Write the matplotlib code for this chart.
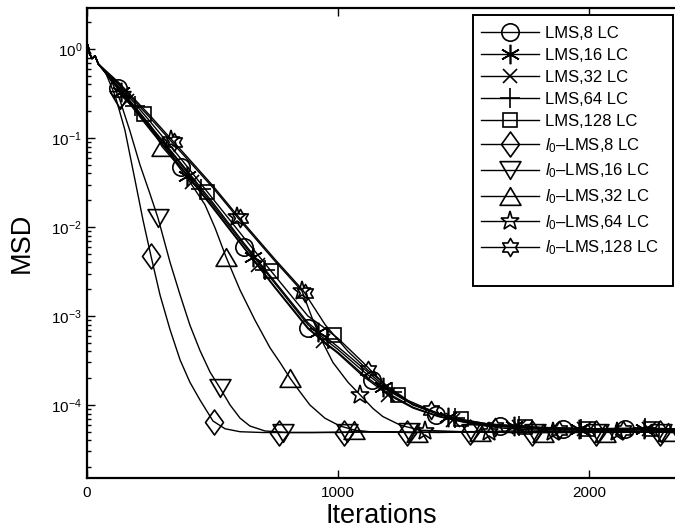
import numpy as np
import matplotlib
matplotlib.use('Agg')
import matplotlib.pyplot as plt
from matplotlib.path import Path
from matplotlib.lines import Line2D
from matplotlib.patches import Rectangle

plt.rcParams['font.family'] = ['Liberation Sans', 'DejaVu Sans']
plt.rcParams['mathtext.fontset'] = 'custom'
plt.rcParams['mathtext.rm'] = 'Liberation Sans'
plt.rcParams['mathtext.it'] = 'Liberation Sans:italic'
plt.rcParams['mathtext.bf'] = 'Liberation Sans:bold'

# noisy start, common to every curve
start_x = [0, 3, 12, 20, 32, 45]
start_y = [0.8, 1.12, 0.87, 0.78, 0.84, 0.68]

# LMS curves (same iteration knots)
lms_x = [125, 250, 375, 500, 625, 750, 880, 950, 1000, 1100, 1200, 1300, 1400, 1500, 1600, 1800, 2000, 2200, 2345]
lms8_y = [0.36, 0.13, 0.047, 0.017, 5.9e-3, 2.1e-3, 7.4e-4, 5.0e-4, 3.9e-4, 2.2e-4, 1.35e-4, 9.4e-5, 7.5e-5, 6.5e-5, 5.9e-5, 5.4e-5, 5.3e-5, 5.4e-5, 5.3e-5]
lms16_y = [0.37, 0.135, 0.05, 0.018, 6.3e-3, 2.3e-3, 8.0e-4, 5.4e-4, 4.2e-4, 2.4e-4, 1.45e-4, 1.0e-4, 7.8e-5, 6.6e-5, 6.0e-5, 5.5e-5, 5.4e-5, 5.3e-5, 5.4e-5]
lms32_y = [0.35, 0.125, 0.046, 0.0165, 5.8e-3, 2.05e-3, 7.2e-4, 4.9e-4, 3.8e-4, 2.1e-4, 1.3e-4, 9.2e-5, 7.4e-5, 6.4e-5, 5.8e-5, 5.4e-5, 5.3e-5, 5.3e-5, 5.2e-5]
lms64_y = [0.38, 0.14, 0.052, 0.019, 6.6e-3, 2.4e-3, 8.4e-4, 5.8e-4, 4.5e-4, 2.6e-4, 1.5e-4, 1.02e-4, 7.9e-5, 6.8e-5, 6.1e-5, 5.6e-5, 5.4e-5, 5.5e-5, 5.4e-5]
lms128_y = [0.40, 0.155, 0.058, 0.021, 7.6e-3, 2.8e-3, 1.0e-3, 7.2e-4, 5.6e-4, 3.0e-4, 1.55e-4, 1.0e-4, 8.0e-5, 6.8e-5, 6.1e-5, 5.6e-5, 5.4e-5, 5.4e-5, 5.4e-5]

# l0-LMS curves
l08_x = [72, 112, 151, 191, 223, 255, 291, 331, 371, 410, 450, 502, 550, 610, 700, 900, 1100, 1300, 1500, 1700, 1900, 2100, 2345]
l08_y = [0.56, 0.30, 0.123, 0.034, 0.012, 4.7e-3, 1.72e-3, 7.0e-4, 3.2e-4, 1.8e-4, 1.14e-4, 6.6e-5, 5.4e-5, 5.0e-5, 4.9e-5, 4.9e-5, 5.0e-5, 4.9e-5, 5.0e-5, 4.9e-5, 4.9e-5, 5.0e-5, 4.9e-5]
l016_x = [72, 100, 131, 171, 211, 250, 283, 331, 371, 410, 450, 490, 530, 570, 610, 649, 709, 800, 1000, 1200, 1400, 1600, 1800, 2000, 2200, 2345]
l016_y = [0.57, 0.42, 0.267, 0.12, 0.05, 0.024, 0.0126, 4.0e-3, 1.72e-3, 7.9e-4, 4.1e-4, 2.35e-4, 1.55e-4, 1.0e-4, 7.1e-5, 5.8e-5, 5.1e-5, 4.9e-5, 4.9e-5, 5.0e-5, 4.9e-5, 5.0e-5, 4.9e-5, 4.9e-5, 5.0e-5, 4.9e-5]
l032_x = [125, 251, 299, 351, 410, 470, 510, 554, 610, 669, 729, 769, 809, 849, 888, 948, 1008, 1068, 1127, 1300, 1500, 1700, 1900, 2100, 2345]
l032_y = [0.36, 0.14, 0.08, 0.054, 0.032, 0.0178, 9.8e-3, 4.6e-3, 1.95e-3, 9.0e-4, 4.4e-4, 3.0e-4, 2.0e-4, 1.4e-4, 1.0e-4, 7.1e-5, 5.8e-5, 5.2e-5, 5.0e-5, 4.9e-5, 5.0e-5, 4.9e-5, 5.0e-5, 4.9e-5, 5.0e-5]
l064_x = [125, 250, 375, 500, 625, 750, 857, 900, 940, 980, 1040, 1088, 1140, 1179, 1250, 1330, 1500, 1700, 1900, 2100, 2345]
l064_y = [0.41, 0.17, 0.069, 0.028, 0.0105, 4.1e-3, 1.9e-3, 9.0e-4, 5.0e-4, 3.0e-4, 1.8e-4, 1.3e-4, 9.1e-5, 7.4e-5, 5.9e-5, 5.2e-5, 5.0e-5, 5.1e-5, 5.0e-5, 5.1e-5, 5.0e-5]
l0128_x = [125, 250, 375, 500, 625, 750, 860, 950, 1040, 1120, 1200, 1280, 1370, 1450, 1550, 1650, 1800, 2000, 2200, 2345]
l0128_y = [0.425, 0.18, 0.073, 0.0294, 0.011, 4.3e-3, 1.95e-3, 7.9e-4, 4.0e-4, 2.45e-4, 1.6e-4, 1.12e-4, 8.7e-5, 7.1e-5, 6.0e-5, 5.5e-5, 5.2e-5, 5.2e-5, 5.1e-5, 5.2e-5]

# marker positions
lms8_mx = [125, 375, 625, 880, 1135, 1390, 1645, 1895, 2145]
lms8_my = [0.36, 0.047, 5.9e-3, 7.4e-4, 1.9e-4, 7.7e-5, 5.8e-5, 5.4e-5, 5.4e-5]
lms16_mx = [135, 398, 661, 920, 1180, 1440, 1700, 1960, 2220]
lms16_my = [0.33, 0.037, 4.6e-3, 6.6e-4, 1.6e-4, 7.3e-5, 5.8e-5, 5.4e-5, 5.3e-5]
lms32_mx = [160, 420, 680, 940, 1200, 1460, 1720, 1980, 2240]
lms32_my = [0.26, 0.032, 3.7e-3, 5.2e-4, 1.3e-4, 6.8e-5, 5.6e-5, 5.3e-5, 5.3e-5]
lms64_mx = [190, 455, 710, 960, 1215, 1466, 1720, 1970, 2225]
lms64_my = [0.226, 0.027, 3.3e-3, 5.5e-4, 1.4e-4, 7.2e-5, 5.8e-5, 5.4e-5, 5.5e-5]
lms128_mx = [227, 478, 733, 984, 1240, 1490, 1745, 1995, 2250]
lms128_my = [0.185, 0.025, 3.2e-3, 6.1e-4, 1.3e-4, 6.9e-5, 5.7e-5, 5.4e-5, 5.4e-5]
l08_mx = [255, 505, 765, 1025, 1275, 1525, 1775, 2030, 2285]
l08_my = [4.7e-3, 6.4e-5, 4.9e-5, 4.9e-5, 4.9e-5, 5.0e-5, 4.9e-5, 4.9e-5, 4.9e-5]
l016_mx = [131, 283, 530, 781, 1035, 1285, 1535, 1785, 2035, 2287]
l016_my = [0.267, 0.0126, 1.55e-4, 4.9e-5, 4.9e-5, 5.0e-5, 4.9e-5, 4.9e-5, 4.9e-5, 4.9e-5]
l032_mx = [299, 554, 809, 1065, 1315, 1566, 1816, 2066, 2316]
l032_my = [0.08, 4.6e-3, 2.0e-4, 5.2e-5, 4.9e-5, 5.0e-5, 4.9e-5, 4.9e-5, 5.0e-5]
l064_mx = [335, 597, 857, 1088, 1345, 1600, 1855, 2110]
l064_my = [0.095, 0.013, 1.9e-3, 1.3e-4, 5.1e-5, 5.0e-5, 5.0e-5, 5.0e-5]
l0128_mx = [345, 610, 870, 1120, 1370, 1625, 1880, 2135]
l0128_my = [0.09, 0.0125, 1.8e-3, 2.45e-4, 8.7e-5, 5.6e-5, 5.2e-5, 5.2e-5]

labels = ['LMS,8 LC', 'LMS,16 LC', 'LMS,32 LC', 'LMS,64 LC', 'LMS,128 LC',
          r'$\mathit{l}_0$–LMS,8 LC', r'$\mathit{l}_0$–LMS,16 LC', r'$\mathit{l}_0$–LMS,32 LC',
          r'$\mathit{l}_0$–LMS,64 LC', r'$\mathit{l}_0$–LMS,128 LC']

# marker shapes (MATLAB-like)
diamond = Path([(0, 1), (0.72, 0), (0, -1), (-0.72, 0), (0, 1)], closed=True)
tri_up = Path([(0, 0.85), (1, -0.85), (-1, -0.85), (0, 0.85)], closed=True)
tri_dn = Path([(0, -0.85), (1, 0.85), (-1, 0.85), (0, -0.85)], closed=True)
ang = np.pi / 2 + np.arange(12) * np.pi / 6
rad = np.where(np.arange(12) % 2 == 0, 1.0, 1 / np.sqrt(3))
hexv = np.column_stack([rad * np.cos(ang), rad * np.sin(ang)])
hexagram = Path(np.vstack([hexv, hexv[:1]]), closed=True)

curves = [
    (lms_x, lms8_y, lms8_mx, lms8_my, 'o', 12.5),
    (lms_x, lms16_y, lms16_mx, lms16_my, (6, 2, 0), 14),
    (lms_x, lms32_y, lms32_mx, lms32_my, 'x', 10),
    (lms_x, lms64_y, lms64_mx, lms64_my, '+', 14),
    (lms_x, lms128_y, lms128_mx, lms128_my, 's', 10.5),
    (l08_x, l08_y, l08_mx, l08_my, diamond, 18),
    (l016_x, l016_y, l016_mx, l016_my, tri_dn, 15),
    (l032_x, l032_y, l032_mx, l032_my, tri_up, 15),
    (l064_x, l064_y, l064_mx, l064_my, '*', 14),
    (l0128_x, l0128_y, l0128_mx, l0128_my, hexagram, 13),
]

fig = plt.figure(figsize=(6.75, 5.31), dpi=100)
ax = fig.add_axes([87 / 675, 53 / 531, 588 / 675, 470 / 531])

handles = []
for (xs, ys, mx, my, mk, ms), lab in zip(curves, labels):
    ax.semilogy(start_x + xs, start_y + ys, color='k', lw=1.0)
    ax.semilogy(mx, my, ls='none', marker=mk, ms=ms, mfc='none', mec='k', mew=1.2)
    handles.append(Line2D([], [], color='k', lw=1.0, marker=mk, ms=ms, mfc='none', mec='k', mew=1.2))

ax.set_xlim(0, 2343)
ax.set_ylim(1.51e-5, 2.89)
ax.set_xticks([0, 1000, 2000])
ax.set_yticks([1e-4, 1e-3, 1e-2, 1e-1, 1e0])
ax.tick_params(which='both', direction='in', top=True, right=False, labelsize=11, width=1.0)
ax.tick_params(which='major', length=6)
ax.tick_params(which='minor', length=3)
ax.tick_params(axis='x', which='minor', bottom=False, top=False)
ax.tick_params(axis='x', pad=6)
for side in ['left', 'bottom', 'top']:
    ax.spines[side].set_linewidth(1.6)
ax.spines['right'].set_visible(False)

ax.set_xlabel('Iterations', fontsize=19.5, labelpad=2)
ax.set_ylabel('MSD', fontsize=19.5, labelpad=12)

# legend box (MATLAB style, extra room at the bottom)
box = Rectangle((473 / 675, 1 - 286 / 531), 200 / 675, 271 / 531, transform=fig.transFigure,
                facecolor='white', edgecolor='k', lw=1.4, zorder=3)
fig.add_artist(box)
leg = fig.legend(handles, labels, loc='upper left', bbox_to_anchor=(481 / 675, 1 - 26 / 531),
                 fontsize=12, frameon=False, handlelength=3.5, handletextpad=0.35,
                 borderpad=0, labelspacing=0.42, borderaxespad=0)
leg.set_zorder(5)

fig.savefig('out.png', dpi=100)
